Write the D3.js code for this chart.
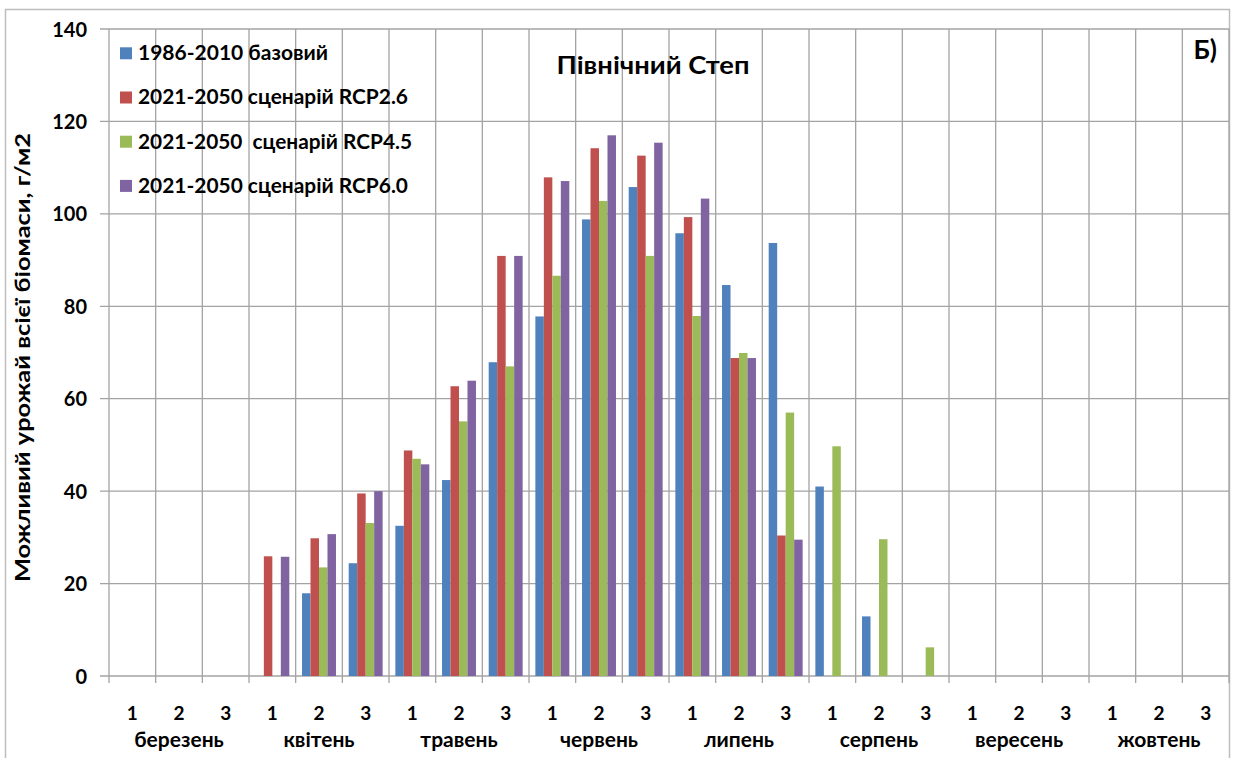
<!DOCTYPE html>
<html><head><meta charset="utf-8">
<script src="https://cdn.jsdelivr.net/npm/d3@7"></script>
<style>
html,body{margin:0;padding:0;background:#fff;}
svg{display:block;}
text{font-family:Lato,"Liberation Sans",sans-serif;font-weight:bold;fill:#000;}
</style></head>
<body>
<svg id="chart" width="1235" height="758"></svg>
<script>
const months = ["березень","квітень","травень","червень","липень","серпень","вересень","жовтень"];
const decades = ["1","2","3"];
const seriesNames = ["1986-2010 базовий","2021-2050 сценарій RCP2.6","2021-2050  сценарій RCP4.5","2021-2050 сценарій RCP6.0"];
const seriesColors = ["#4F81BD","#C0504D","#9BBB59","#8064A2"];
const baseline = [null,null,null, null,17.9,24.4, 32.5,42.4,67.9, 77.8,98.8,105.8, 95.8,84.6,93.7, 41.0,12.9,null, null,null,null, null,null,null];
const rcp26 =    [null,null,null, 25.9,29.8,39.5, 48.8,62.7,90.9, 107.9,114.2,112.6, 99.3,68.8,30.4, null,null,null, null,null,null, null,null,null];
const rcp45 =    [null,null,null, null,23.5,33.1, 47.0,55.1,67.0, 86.6,102.8,90.9, 77.9,69.9,57.0, 49.7,29.6,6.2, null,null,null, null,null,null];
const rcp60 =    [null,null,null, 25.8,30.7,40.0, 45.8,63.9,90.9, 107.1,117.0,115.4, 103.3,68.8,29.5, null,null,null, null,null,null, null,null,null];
const yTicks = [0,20,40,60,80,100,120,140];
const title = "Північний Степ";
const yTitle = "Можливий урожай всієї біомаси, г/м2";
const panelLabel = "Б)";

const allSeries = [baseline, rcp26, rcp45, rcp60];
const cats = [];
months.forEach((m,mi)=>decades.forEach((d,di)=>cats.push({key:mi*3+di, month:m, dec:d})));

const svg = d3.select("#chart");
const L = 109, R = 1229, T = 29, B = 676;
const gridColor = "#a3a3a3";

// outer border
svg.append("rect").attr("x",5.5).attr("y",9.5).attr("width",R-5).attr("height",800)
  .attr("fill","none").attr("stroke","#bdbdbd").attr("stroke-width",1.5);

const x = d3.scaleBand().domain(cats.map(c=>c.key)).range([L,R]).paddingInner(0).paddingOuter(0);
const bw = x.bandwidth();
const unit = bw/5.5;
const x1 = d3.scaleBand().domain(d3.range(4)).range([0.75*unit, bw-0.75*unit]).padding(0);
const y = d3.scaleLinear().domain([0,140]).range([B,T]);

// horizontal gridlines
svg.append("g").selectAll("line").data(yTicks).join("line")
  .attr("x1",L-9).attr("x2",R).attr("y1",d=>y(d)).attr("y2",d=>y(d))
  .attr("stroke",gridColor).attr("stroke-width",1.3);
// vertical gridlines
const vLines = cats.map(c=>x(c.key)).concat([R]);
svg.append("g").selectAll("line").data(vLines).join("line")
  .attr("x1",d=>d).attr("x2",d=>d).attr("y1",T).attr("y2",B+7)
  .attr("stroke",gridColor).attr("stroke-width",1.3);

// y axis labels via d3 axis
const yAxis = svg.append("g").attr("transform",`translate(${L},0)`)
  .call(d3.axisLeft(y).tickValues(yTicks).tickSize(0).tickPadding(22));
yAxis.select(".domain").remove();
yAxis.selectAll("text").attr("font-size","20px").attr("font-family","Lato, sans-serif").attr("font-weight","bold").attr("dy","0.35em");

// bars
allSeries.forEach((s,si)=>{
  svg.append("g").selectAll("rect")
    .data(cats.filter(c=>s[c.key]!=null && s[c.key]>0))
    .join("rect")
    .attr("x",c=>x(c.key)+x1(si))
    .attr("width",x1.bandwidth())
    .attr("y",c=>y(s[c.key]))
    .attr("height",c=>B-y(s[c.key]))
    .attr("fill",seriesColors[si]);
});

// x axis decade labels
const xAxis = svg.append("g").attr("transform",`translate(0,${B})`)
  .call(d3.axisBottom(x).tickSize(0).tickPadding(0).tickFormat(k=>cats[k].dec));
xAxis.select(".domain").remove();
xAxis.selectAll("text").attr("font-size","19px").attr("font-family","Lato, sans-serif").attr("font-weight","bold").attr("dy",0).attr("y",43.5);

// month labels
svg.append("g").selectAll("text").data(months).join("text")
  .attr("x",(m,i)=>x(i*3)+1.5*bw).attr("y",747)
  .attr("text-anchor","middle").attr("font-size","21px").text(d=>d);

// title
svg.append("text").attr("x",653).attr("y",73.5).attr("text-anchor","middle")
  .attr("font-size","25px").attr("textLength",193).attr("lengthAdjust","spacingAndGlyphs").text(title);
// panel label
svg.append("text").attr("x",1217).attr("y",59).attr("text-anchor","end")
  .attr("font-size","26px").attr("font-family","Liberation Sans, Arial, sans-serif").text(panelLabel);

// y title
svg.append("text").attr("transform",`translate(30,357.5) rotate(-90)`)
  .attr("text-anchor","middle").attr("font-size","21px")
  .attr("textLength",449).attr("lengthAdjust","spacingAndGlyphs").text(yTitle);

// legend
const legendLen = [190,270,274,270];
const lg = svg.append("g");
seriesNames.forEach((n,i)=>{
  const yy = 53.3 + i*44.2;
  lg.append("rect").attr("x",120).attr("y",yy-6).attr("width",12).attr("height",12).attr("fill",seriesColors[i]);
  lg.append("text").attr("x",138).attr("y",yy+6.8).attr("font-size","21px")
    .attr("textLength",legendLen[i]).attr("lengthAdjust","spacingAndGlyphs")
    .style("white-space","pre").text(n);
});
</script>
</body></html>
